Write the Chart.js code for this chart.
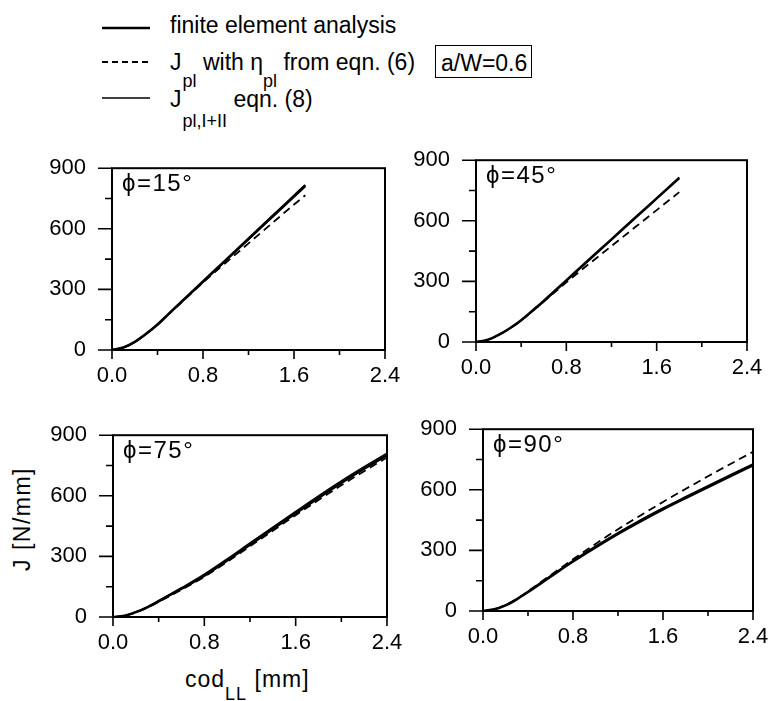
<!DOCTYPE html>
<html><head><meta charset="utf-8">
<script src="https://cdn.jsdelivr.net/npm/chart.js@4.4.1/dist/chart.umd.min.js"></script>
<style>
html,body{margin:0;padding:0;background:#fff;}
body{width:775px;height:701px;position:relative;overflow:hidden;font-family:"Liberation Sans",Arial,Helvetica,sans-serif;color:#000;}
.pnl{position:absolute;}
.t{position:absolute;white-space:nowrap;font-size:23px;line-height:1;}
.sub{font-size:18px;position:relative;}
</style></head><body>

<svg style="position:absolute;left:0;top:0" width="200" height="120">
  <line x1="102" y1="28" x2="150" y2="28" stroke="#000" stroke-width="2.5"/>
  <line x1="102" y1="62" x2="150" y2="62" stroke="#000" stroke-width="1.8" stroke-dasharray="6,4"/>
  <line x1="102" y1="98" x2="150" y2="98" stroke="#000" stroke-width="1.5"/>
</svg>
<div class="t" style="left:170px;top:13.5px;">finite element analysis</div>
<div class="t" style="left:170px;top:50.5px;">J<span class="sub" style="top:17px;margin-left:1px">pl</span> with η<span class="sub" style="top:17px;">pl</span> from eqn. (6)</div>
<div class="t" style="left:170px;top:87.5px;">J<span class="sub" style="top:20px;margin-left:1px">pl,I+II</span> eqn. (8)</div>
<div class="t" style="left:435px;top:45px;width:95px;height:31px;border:1.5px solid #000;"><span style="position:absolute;left:5px;top:6px;">a/W=0.6</span></div>

<div class="t" style="left:22px;top:519px;transform:translate(-50%,-50%) rotate(-90deg);letter-spacing:1.5px;">J [N/mm]</div>
<div class="t" style="left:185px;top:667.5px;letter-spacing:1px;">cod<span class="sub" style="top:13px;">LL</span> [mm]</div>

<script>
// ---- data ----
const codTicks = [0.0, 0.8, 1.6, 2.4];
const jTicks = [0, 300, 600, 900];

const cod15 = [0, 0.1, 0.2, 0.3, 0.4, 0.5, 0.6, 0.8, 1.0, 1.2, 1.4, 1.6, 1.7];
const fe15  = [0, 12, 40, 80, 126, 180, 233, 339, 445, 551, 657, 763, 816];
const jI15  = [0, 11, 38, 78, 124, 178, 231, 336, 441, 546, 651, 756, 808];
const pl15  = [0, 12, 40, 80, 126, 178, 230, 334, 432, 528, 624, 720, 766];

const cod45 = [0, 0.1, 0.2, 0.3, 0.4, 0.5, 0.6, 0.8, 1.0, 1.2, 1.4, 1.6, 1.8];
const fe45  = [0, 10, 35, 68, 108, 155, 203, 305, 407, 508, 610, 711, 812];
const jI45  = [0, 10, 34, 67, 106, 153, 201, 302, 404, 506, 608, 710, 816];
const pl45  = [0, 10, 35, 68, 107, 153, 200, 295, 386, 475, 564, 653, 742];

const cod75 = [0, 0.1, 0.2, 0.3, 0.4, 0.6, 0.8, 1.0, 1.2, 1.4, 1.6, 1.8, 2.0, 2.2, 2.4];
const fe75  = [0, 6, 24, 48, 78, 140, 205, 280, 358, 436, 514, 590, 664, 734, 802];
const jI75  = [0, 6, 25, 50, 81, 145, 212, 288, 367, 445, 523, 600, 674, 744, 812];
const pl75  = [0, 5, 22, 46, 75, 135, 199, 273, 350, 427, 504, 579, 652, 722, 790];

const cod90 = [0, 0.1, 0.2, 0.3, 0.4, 0.6, 0.8, 1.0, 1.2, 1.4, 1.6, 1.8, 2.0, 2.2, 2.4];
const fe90  = [0, 8, 28, 58, 94, 170, 245, 315, 382, 444, 503, 559, 614, 668, 721];
const jI90  = [0, 8, 29, 60, 97, 174, 250, 321, 388, 451, 510, 566, 621, 675, 728];
const pl90  = [0, 8, 29, 60, 98, 177, 256, 332, 405, 473, 540, 604, 667, 728, 788];

const panelLabels = ['ϕ=15°', 'ϕ=45°', 'ϕ=75°', 'ϕ=90°'];
// -------------------------------------

const FONT = '"Liberation Sans", Arial, Helvetica, sans-serif';
const near = (v, arr) => arr.some(a => Math.abs(a - v) < 1e-6);

const framePlugin = {
  id: 'frame',
  afterDraw(chart) {
    const {ctx, chartArea: a, scales: {x, y}} = chart;
    ctx.save();
    ctx.strokeStyle = '#000';
    ctx.lineWidth = 2;
    ctx.strokeRect(a.left, a.top, a.right - a.left, a.bottom - a.top);
    ctx.lineWidth = 1.6;
    ctx.beginPath();
    y.ticks.forEach(t => {
      const py = y.getPixelForValue(t.value);
      const len = near(t.value, jTicks) ? 14 : 7;
      ctx.moveTo(a.left - len, py); ctx.lineTo(a.left, py);
    });
    x.ticks.forEach(t => {
      const px = x.getPixelForValue(t.value);
      const len = near(t.value, codTicks) ? 9 : 5;
      ctx.moveTo(px, a.bottom); ctx.lineTo(px, a.bottom + len);
    });
    ctx.stroke();
    ctx.restore();
  }
};

function panel(area, cod, fe, jI, pl, label) {
  const PADL = 80, PADT = 20, PADR = 30, PADB = 40;
  const W = area.r - area.l + PADL + PADR, H = area.b - area.t + PADT + PADB;
  const div = document.createElement('div');
  div.className = 'pnl';
  div.style.left = (area.l - PADL) + 'px';
  div.style.top = (area.t - PADT) + 'px';
  const cv = document.createElement('canvas');
  cv.width = W; cv.height = H;
  cv.style.width = W + 'px'; cv.style.height = H + 'px';
  div.appendChild(cv);
  document.body.appendChild(div);

  const lab = document.createElement('div');
  lab.className = 't';
  lab.style.left = (area.l + 10) + 'px';
  lab.style.top = (area.t + 21.7) + 'px';
  lab.style.fontSize = '24px';
  lab.style.letterSpacing = '1.5px';
  lab.textContent = label;
  document.body.appendChild(lab);

  const pts = arr => cod.map((x, i) => ({x: x, y: arr[i]}));
  new Chart(cv, {
    type: 'line',
    data: {
      datasets: [
        {label: 'finite element analysis', data: pts(fe), borderColor: '#000', borderWidth: 2.6, pointRadius: 0, fill: false, cubicInterpolationMode: 'monotone'},
        {label: 'J_pl with eta_pl from eqn. (6)', data: pts(pl), borderColor: '#000', borderWidth: 1.8, borderDash: [8, 5], pointRadius: 0, fill: false, cubicInterpolationMode: 'monotone'},
        {label: 'J_pl,I+II eqn. (8)', data: pts(jI), borderColor: '#000', borderWidth: 1.4, pointRadius: 0, fill: false, cubicInterpolationMode: 'monotone'}
      ]
    },
    options: {
      responsive: false,
      animation: false,
      events: [],
      layout: {padding: {top: PADT, right: PADR, left: 0, bottom: 0}},
      plugins: {legend: {display: false}, tooltip: {enabled: false}},
      scales: {
        x: {
          type: 'linear', min: 0, max: 2.4,
          afterFit: s => { s.height = PADB; },
          grid: {display: false, drawTicks: false},
          border: {display: false},
          ticks: {
            stepSize: 0.4, autoSkip: false, maxRotation: 0, minRotation: 0, padding: 13,
            color: '#000', font: {size: 22, family: FONT},
            callback: v => near(v, codTicks) ? v.toFixed(1) : ''
          }
        },
        y: {
          type: 'linear', min: 0, max: 900,
          afterFit: s => { s.width = PADL; },
          grid: {display: false, drawTicks: false},
          border: {display: false},
          ticks: {
            stepSize: 150, autoSkip: false, padding: 26,
            color: '#000', font: {size: 22, family: FONT},
            callback: v => near(v, jTicks) ? String(v) : ''
          }
        }
      }
    },
    plugins: [framePlugin]
  });
}

panel({l: 112, t: 149, r: 385, b: 350}, cod15, fe15, jI15, pl15, panelLabels[0]);
panel({l: 476, t: 141, r: 747, b: 342}, cod45, fe45, jI45, pl45, panelLabels[1]);
panel({l: 113, t: 416, r: 387, b: 617}, cod75, fe75, jI75, pl75, panelLabels[2]);
panel({l: 483, t: 410, r: 753, b: 611}, cod90, fe90, jI90, pl90, panelLabels[3]);
</script>
</body></html>
